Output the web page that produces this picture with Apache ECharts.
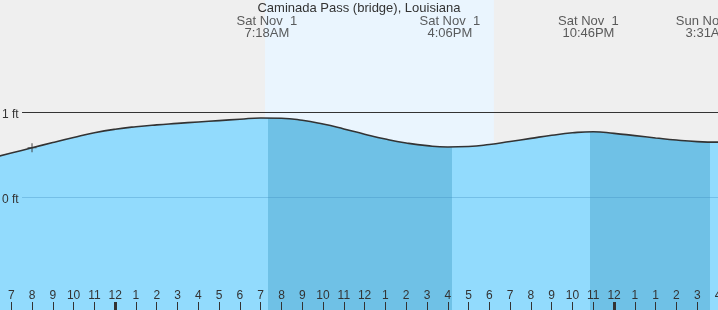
<!DOCTYPE html>
<html><head><meta charset="utf-8">
<script src="https://cdn.jsdelivr.net/npm/echarts@6/dist/echarts.min.js"></script>
<style>html,body{margin:0;padding:0;background:#efefef;overflow:hidden}#c{width:718px;height:310px}</style>
</head><body><div id="c"></div>
<script>
// ---- data (hours measured from Sat Nov 1 00:00 local) ----
const stationName = 'Caminada Pass (bridge), Louisiana';
const tideHours = [-6,-5,-4,-3,-2,-1,0,1,2,3,4,5,6,7,8,9,10,11,12,13,14,15,16,17,18,19,20,21,22,23,24,25,26,27,28,29];
const tideFeet  = [0.455,0.517,0.579,0.641,0.70,0.755,0.797,0.827,0.849,0.866,0.883,0.899,0.915,0.930,0.927,0.903,0.858,0.801,0.739,0.682,0.636,0.604,0.589,0.594,0.617,0.653,0.69,0.726,0.755,0.768,0.749,0.722,0.695,0.670,0.652,0.645];
const tickHours  = [-5,-4,-3,-2,-1,0,1,2,3,4,5,6,7,8,9,10,11,12,13,14,15,16,17,18,19,20,21,22,23,24,25,26,27,28,29];
const tickLabels = ['7','8','9','10','11','12','1','2','3','4','5','6','7','8','9','10','11','12','1','2','3','4','5','6','7','8','9','10','11','12','1','1','2','3','4'];
const midnightHours = [0, 24];
const extremeHours = [7.3, 16.1, 22.767, 28.517];
const extremeDays  = ['Sat Nov  1', 'Sat Nov  1', 'Sat Nov  1', 'Sun Nov  2'];
const extremeTimes = ['7:18AM', '4:06PM', '10:46PM', '3:31AM'];
const fallingStart = [7.356, 22.84];
const fallingEnd   = [16.2, 28.6];
const sunriseHour = 7.21, sunsetHour = 18.22;
const nowHour = -4.0, nowFeet = 0.579;
const yTickFeet = [0, 1];

// ---- layout / style ----
const X_MIN = -5.54, X_MAX = 29;
const Y_MIN = -1.3294, Y_MAX = 2.3176;
const LINE_START = -4.48;
const FONT = "'Liberation Sans', Arial, sans-serif";
const TXT = '#333';
const LIGHT = '#92dbfd', DARK = '#6fc1e6';

const pieces = [];
let prev = null;
for (let i = 0; i < fallingStart.length; i++) {
  const p = {lt: fallingStart[i], color: LIGHT};
  if (prev !== null) p.gte = prev;
  pieces.push(p);
  pieces.push({gte: fallingStart[i], lt: fallingEnd[i], color: DARK});
  prev = fallingEnd[i];
}
pieces.push({gte: prev, color: LIGHT});

const chart = echarts.init(document.getElementById('c'), null, {renderer: 'canvas'});
chart.setOption({
  backgroundColor: '#efefef',
  animation: false,
  textStyle: {fontFamily: FONT},
  title: {
    text: stationName, left: 'center', top: 2, padding: 0,
    textStyle: {fontSize: 13, fontWeight: 'normal', color: TXT, fontFamily: FONT}
  },
  grid: {left: 0, right: 0, top: 0, bottom: 0, containLabel: false, outerBoundsMode: 'none'},
  xAxis: [{
    type: 'value', min: X_MIN, max: X_MAX, z: 10, position: 'bottom',
    axisLine: {show: false, onZero: false}, splitLine: {show: false},
    axisTick: {show: true, inside: true, length: 8, customValues: tickHours, lineStyle: {color: TXT, width: 1}},
    axisLabel: {show: true, inside: true, margin: 8, customValues: tickHours, color: TXT, fontSize: 12, fontFamily: FONT,
      formatter: v => tickLabels[tickHours.indexOf(Math.round(v))]}
  }, {
    type: 'value', min: X_MIN, max: X_MAX, position: 'bottom', z: 10,
    axisLine: {show: false, onZero: false}, splitLine: {show: false}, axisLabel: {show: false},
    axisTick: {show: true, inside: true, length: 8, customValues: midnightHours, lineStyle: {color: TXT, width: 3}}
  }],
  yAxis: {
    type: 'value', min: Y_MIN, max: Y_MAX, z: 10,
    axisLine: {show: false, onZero: false}, axisTick: {show: false}, splitLine: {show: false},
    axisLabel: {show: true, inside: true, margin: 2, customValues: yTickFeet, color: TXT, fontSize: 12, fontFamily: FONT,
      formatter: v => '{v|' + Math.round(v) + ' ft}',
      rich: {v: {color: TXT, fontSize: 12, fontFamily: FONT, padding: [5, 0, 0, 0]}}}
  },
  visualMap: {type: 'piecewise', show: false, dimension: 0, seriesIndex: 0, pieces: pieces},
  series: [{
    type: 'line', smooth: true, showSymbol: false, z: 2,
    data: tideHours.map((h, i) => [h, tideFeet[i]]),
    lineStyle: {color: '#333', width: 1.6},
    areaStyle: {opacity: 1, origin: 'start'},
    markArea: {
      silent: true, z: 1,
      itemStyle: {color: '#eaf5fe'},
      data: [[{xAxis: sunriseHour}, {xAxis: sunsetHour}]]
    },
    markLine: {
      silent: true, symbol: 'none', z: 5, label: {show: false},
      data: [
        [{coord: [LINE_START, 1], lineStyle: {color: '#333', width: 1, type: 'solid'}}, {coord: [X_MAX, 1]}],
        [{coord: [LINE_START, 0], lineStyle: {color: 'rgba(60,140,190,0.35)', width: 1, type: 'solid'}}, {coord: [X_MAX, 0]}]
      ]
    }
  }, {
    type: 'scatter', z: 6, silent: true,
    symbol: 'path://M3.5,0h1v3.5h3.5v1h-3.5v3.5h-1v-3.5h-3.5v-1h3.5z', symbolSize: 9,
    itemStyle: {color: '#333'},
    data: [[nowHour, nowFeet]]
  }, {
    type: 'scatter', z: 10, silent: true, symbolSize: 0, clip: false,
    data: extremeHours.map(h => [h, Y_MAX]),
    label: {
      show: true, position: 'bottom', distance: 15, align: 'center',
      color: TXT, fontSize: 13, lineHeight: 12, fontFamily: FONT,
      formatter: p => extremeDays[p.dataIndex] + '\n' + extremeTimes[p.dataIndex]
    }
  }]
});
</script></body></html>
